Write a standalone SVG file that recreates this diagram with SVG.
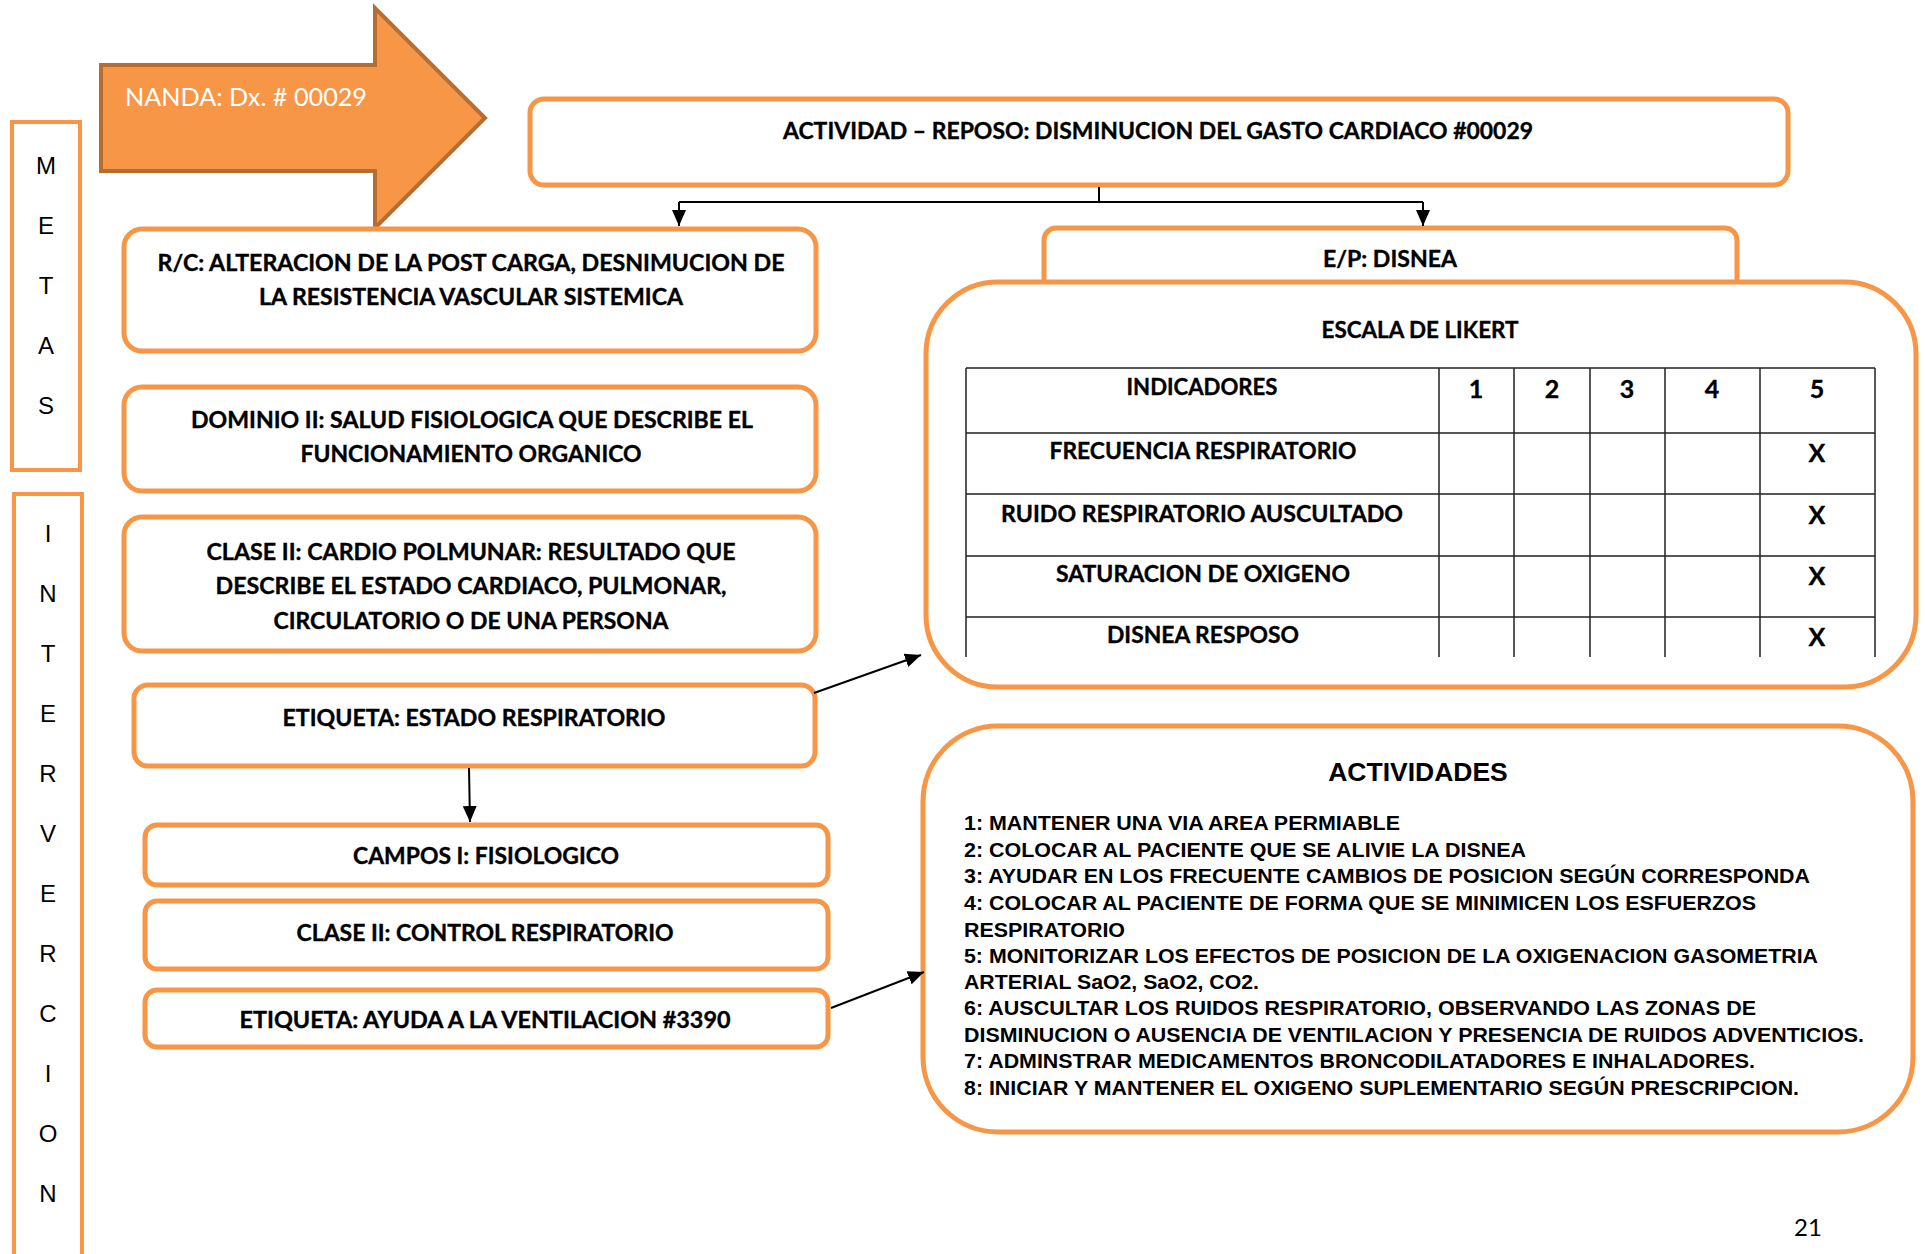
<svg xmlns="http://www.w3.org/2000/svg" width="1925" height="1254" viewBox="0 0 1925 1254">
<defs>
<style>
.box{fill:#fff;stroke:#F79646;stroke-width:5}
.side{fill:#fff;stroke:#F79646;stroke-width:4}
.t{font-family:Lato,"Open Sans","Liberation Sans",sans-serif;font-weight:bold;font-size:22px;fill:#000;stroke:#000;stroke-width:0.35;text-anchor:middle}
.tb{font-family:Lato,"Open Sans","Liberation Sans",sans-serif;font-weight:bold;font-size:23px;fill:#000;stroke:#000;stroke-width:0.35;text-anchor:middle}
.n{font-size:25px}
.a{font-family:"Liberation Sans",Arial,sans-serif;font-weight:bold;font-size:21px;fill:#000}
.v{font-family:"Liberation Sans",Arial,sans-serif;font-size:24px;fill:#000;text-anchor:middle}
.con{stroke:#000;stroke-width:2;fill:none}
.grid{stroke:#222;stroke-width:1.5;fill:none}
</style>
<marker id="ah" markerUnits="userSpaceOnUse" markerWidth="18" markerHeight="14" refX="16" refY="7" orient="auto">
<path d="M0,0 L16,7 L0,14 Z" fill="#000"/>
</marker>
</defs>
<rect width="1925" height="1254" fill="#fff"/>

<g id="metas">
<rect class="side" x="12" y="122" width="68" height="348"/>
<text class="v" x="46" y="174">M</text>
<text class="v" x="46" y="234">E</text>
<text class="v" x="46" y="294">T</text>
<text class="v" x="46" y="354">A</text>
<text class="v" x="46" y="414">S</text>
</g>

<g id="intervencion">
<rect class="side" x="14" y="494" width="68" height="790"/>
<text class="v" x="48" y="542">I</text>
<text class="v" x="48" y="602">N</text>
<text class="v" x="48" y="662">T</text>
<text class="v" x="48" y="722">E</text>
<text class="v" x="48" y="782">R</text>
<text class="v" x="48" y="842">V</text>
<text class="v" x="48" y="902">E</text>
<text class="v" x="48" y="962">R</text>
<text class="v" x="48" y="1022">C</text>
<text class="v" x="48" y="1082">I</text>
<text class="v" x="48" y="1142">O</text>
<text class="v" x="48" y="1202">N</text>
</g>

<g id="nanda">
<path d="M101,65 H375 V8 L485,118 L375,228 V171 H101 Z" fill="#F79646" stroke="#B66D31" stroke-width="4" stroke-linejoin="miter"/>
<text x="125" y="106" font-family="Lato,'Open Sans','Liberation Sans',sans-serif" font-size="25" fill="#fff" textLength="242" lengthAdjust="spacingAndGlyphs">NANDA: Dx. # 00029</text>
</g>

<g id="actividad">
<rect class="box" x="530" y="99" width="1258" height="86" rx="14"/>
<text class="t" x="1158" y="139" textLength="750" lengthAdjust="spacingAndGlyphs">ACTIVIDAD – REPOSO: DISMINUCION DEL GASTO CARDIACO #00029</text>
</g>

<g id="rc">
<rect class="box" x="124" y="229" width="692" height="122" rx="18"/>
<text class="t" x="471" y="271" textLength="627" lengthAdjust="spacingAndGlyphs">R/C: ALTERACION DE LA POST CARGA, DESNIMUCION DE</text>
<text class="t" x="471" y="305" textLength="424" lengthAdjust="spacingAndGlyphs">LA RESISTENCIA VASCULAR SISTEMICA</text>
</g>

<g id="dominio">
<rect class="box" x="124" y="387" width="692" height="104" rx="18"/>
<text class="t" x="472" y="428" textLength="562" lengthAdjust="spacingAndGlyphs">DOMINIO II: SALUD FISIOLOGICA QUE DESCRIBE EL</text>
<text class="t" x="471" y="462" textLength="341" lengthAdjust="spacingAndGlyphs">FUNCIONAMIENTO ORGANICO</text>
</g>

<g id="clase">
<rect class="box" x="124" y="517" width="692" height="134" rx="18"/>
<text class="t" x="471" y="560" textLength="529" lengthAdjust="spacingAndGlyphs">CLASE II: CARDIO POLMUNAR: RESULTADO QUE</text>
<text class="t" x="471" y="594" textLength="511" lengthAdjust="spacingAndGlyphs">DESCRIBE EL ESTADO CARDIACO, PULMONAR,</text>
<text class="t" x="471" y="629" textLength="395" lengthAdjust="spacingAndGlyphs">CIRCULATORIO O DE UNA PERSONA</text>
</g>

<g id="etiqueta-estado">
<rect class="box" x="134" y="685" width="681" height="81" rx="14"/>
<text class="t" x="474" y="726" textLength="383" lengthAdjust="spacingAndGlyphs">ETIQUETA: ESTADO RESPIRATORIO</text>
</g>

<g id="campos">
<rect class="box" x="145" y="825" width="683" height="60" rx="12"/>
<text class="t" x="486" y="864" textLength="266" lengthAdjust="spacingAndGlyphs">CAMPOS I: FISIOLOGICO</text>
</g>

<g id="clase-control">
<rect class="box" x="145" y="901" width="683" height="68" rx="12"/>
<text class="t" x="485" y="941" textLength="377" lengthAdjust="spacingAndGlyphs">CLASE II: CONTROL RESPIRATORIO</text>
</g>

<g id="etiqueta-ayuda">
<rect class="box" x="145" y="990" width="683" height="57" rx="12"/>
<text class="t" x="485" y="1028" textLength="491" lengthAdjust="spacingAndGlyphs">ETIQUETA: AYUDA A LA VENTILACION #3390</text>
</g>

<g id="ep">
<rect class="box" x="1044" y="228" width="693" height="80" rx="12"/>
<text class="t" x="1390" y="267" textLength="134" lengthAdjust="spacingAndGlyphs">E/P: DISNEA</text>
</g>

<g id="likert">
<rect class="box" x="926" y="282" width="990" height="405" rx="72"/>
<text class="t" x="1420" y="338" textLength="197" lengthAdjust="spacingAndGlyphs">ESCALA DE LIKERT</text>
<path class="grid" d="M966,368 H1875 M966,433 H1875 M966,494 H1875 M966,556 H1875 M966,617 H1875 M966,368 V657 M1439,368 V657 M1514,368 V657 M1590,368 V657 M1665,368 V657 M1760,368 V657 M1875,368 V657"/>
<text class="tb" x="1202" y="395" textLength="151" lengthAdjust="spacingAndGlyphs">INDICADORES</text>
<text class="tb n" x="1476" y="398">1</text>
<text class="tb n" x="1552" y="398">2</text>
<text class="tb n" x="1627" y="398">3</text>
<text class="tb n" x="1712" y="398">4</text>
<text class="tb n" x="1817" y="398">5</text>
<text class="tb" x="1203" y="459" textLength="307" lengthAdjust="spacingAndGlyphs">FRECUENCIA RESPIRATORIO</text>
<text class="tb" x="1202" y="522" textLength="402" lengthAdjust="spacingAndGlyphs">RUIDO RESPIRATORIO AUSCULTADO</text>
<text class="tb" x="1203" y="582" textLength="294" lengthAdjust="spacingAndGlyphs">SATURACION DE OXIGENO</text>
<text class="tb" x="1203" y="643" textLength="192" lengthAdjust="spacingAndGlyphs">DISNEA RESPOSO</text>
<text class="tb n" x="1817" y="462">X</text>
<text class="tb n" x="1817" y="524">X</text>
<text class="tb n" x="1817" y="585">X</text>
<text class="tb n" x="1817" y="646">X</text>
</g>

<g id="actividades">
<rect class="box" x="923" y="726" width="990" height="406" rx="75"/>
<text x="1418" y="781" font-family="'Liberation Sans',Arial,sans-serif" font-weight="bold" font-size="26.5" text-anchor="middle">ACTIVIDADES</text>
<text class="a" x="964" y="830" textLength="436" lengthAdjust="spacingAndGlyphs">1: MANTENER UNA VIA AREA PERMIABLE</text>
<text class="a" x="964" y="857" textLength="562" lengthAdjust="spacingAndGlyphs">2: COLOCAR AL PACIENTE QUE SE ALIVIE LA DISNEA</text>
<text class="a" x="964" y="883" textLength="846" lengthAdjust="spacingAndGlyphs">3: AYUDAR EN LOS FRECUENTE CAMBIOS DE POSICION SEGÚN CORRESPONDA</text>
<text class="a" x="964" y="910" textLength="792" lengthAdjust="spacingAndGlyphs">4: COLOCAR AL PACIENTE DE FORMA QUE SE MINIMICEN LOS ESFUERZOS</text>
<text class="a" x="964" y="937" textLength="161" lengthAdjust="spacingAndGlyphs">RESPIRATORIO</text>
<text class="a" x="964" y="963" textLength="854" lengthAdjust="spacingAndGlyphs">5: MONITORIZAR LOS EFECTOS DE POSICION DE LA OXIGENACION GASOMETRIA</text>
<text class="a" x="964" y="989" textLength="295" lengthAdjust="spacingAndGlyphs">ARTERIAL SaO2, SaO2, CO2.</text>
<text class="a" x="964" y="1015" textLength="792" lengthAdjust="spacingAndGlyphs">6: AUSCULTAR LOS RUIDOS RESPIRATORIO, OBSERVANDO LAS ZONAS DE</text>
<text class="a" x="964" y="1042" textLength="900" lengthAdjust="spacingAndGlyphs">DISMINUCION O AUSENCIA DE VENTILACION Y PRESENCIA DE RUIDOS ADVENTICIOS.</text>
<text class="a" x="964" y="1068" textLength="791" lengthAdjust="spacingAndGlyphs">7: ADMINSTRAR MEDICAMENTOS BRONCODILATADORES E INHALADORES.</text>
<text class="a" x="964" y="1095" textLength="835" lengthAdjust="spacingAndGlyphs">8: INICIAR Y MANTENER EL OXIGENO SUPLEMENTARIO SEGÚN PRESCRIPCION.</text>
</g>

<g id="connectors">
<path class="con" d="M1099,187 V202 M679,202 H1423"/>
<path class="con" d="M679,202 V226" marker-end="url(#ah)"/>
<path class="con" d="M1423,202 V226" marker-end="url(#ah)"/>
<path class="con" d="M469,768 L470,822" marker-end="url(#ah)"/>
<path class="con" d="M814,693 L921,655" marker-end="url(#ah)"/>
<path class="con" d="M831,1008 L924,972" marker-end="url(#ah)"/>
</g>

<text x="1808" y="1236" font-family="Lato,'Open Sans','Liberation Sans',sans-serif" font-size="24" text-anchor="middle" fill="#000">21</text>
</svg>
